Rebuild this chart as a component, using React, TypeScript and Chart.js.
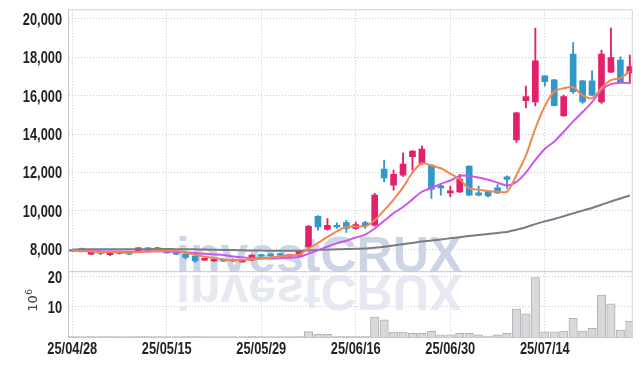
import React, { useEffect, useRef } from "react";
import { Chart, registerables } from "chart.js";
Chart.register(...registerables);

const dates = [
  "25/04/28", "25/04/29", "25/04/30", "25/05/02", "25/05/07", "25/05/08", "25/05/09", "25/05/12", "25/05/13", "25/05/14",
  "25/05/15", "25/05/16", "25/05/19", "25/05/20", "25/05/21", "25/05/22", "25/05/23", "25/05/26", "25/05/27", "25/05/28",
  "25/05/29", "25/05/30", "25/06/02", "25/06/04", "25/06/05", "25/06/09", "25/06/10", "25/06/11", "25/06/12", "25/06/13",
  "25/06/16", "25/06/17", "25/06/18", "25/06/19", "25/06/20", "25/06/23", "25/06/24", "25/06/25", "25/06/26", "25/06/27",
  "25/06/30", "25/07/01", "25/07/02", "25/07/03", "25/07/04", "25/07/07", "25/07/08", "25/07/09", "25/07/10", "25/07/11",
  "25/07/14", "25/07/15", "25/07/16", "25/07/17", "25/07/18", "25/07/21", "25/07/22", "25/07/23", "25/07/24", "25/07/25",
];

const opens = [
  7950, 8040, 7740, 7810, 7720, 7780, 7830, 7900, 8070, 7880,
  7910, 7860, 7740, 7640, 7430, 7390, 7480, 7480, 7340, 7430,
  7720, 7720, 7720, 7650, 7690, 8120, 9720, 9030, 9250, 9390,
  9080, 9390, 9250, 12170, 11340, 11860, 12820, 12470, 12380, 11300,
  10940, 10990, 12330, 10940, 11040, 11200, 11770, 13690, 15740, 15680,
  17030, 16820, 14950, 18170, 16780, 16780, 15680, 17220, 17860, 17170,
];
const highs = [
  7980, 8060, 7880, 7850, 7870, 7850, 7850, 8090, 8090, 8100,
  7930, 7880, 7760, 7660, 7550, 7500, 7500, 7500, 7480, 7710,
  7740, 7770, 7740, 7720, 7920, 9250, 9750, 9600, 9370, 9510,
  9420, 9450, 10910, 12640, 12120, 13010, 13150, 13370, 12400, 11440,
  11290, 11900, 12350, 11290, 11060, 11370, 11820, 15130, 16500, 19520,
  17050, 16850, 16030, 18760, 16800, 17300, 18380, 19520, 18030, 18120,
];
const lows = [
  7880, 7880, 7720, 7720, 7670, 7740, 7720, 7880, 7890, 7860,
  7790, 7720, 7490, 7310, 7410, 7370, 7360, 7360, 7320, 7410,
  7620, 7600, 7670, 7630, 7670, 8100, 8990, 9000, 9080, 8870,
  9030, 9080, 9200, 11510, 11080, 11800, 12120, 12400, 10650, 10820,
  10730, 10950, 10800, 10780, 10730, 10890, 11170, 13570, 15360, 15460,
  16500, 15460, 14930, 16120, 15600, 16000, 15600, 17200, 16700, 16640,
];
const closes = [
  7900, 7910, 7860, 7780, 7860, 7830, 7740, 8070, 7910, 8070,
  7810, 7740, 7570, 7390, 7530, 7480, 7380, 7380, 7460, 7690,
  7640, 7670, 7690, 7700, 7900, 9200, 9160, 9250, 9160, 9080,
  9290, 9220, 10820, 11720, 11900, 12440, 13110, 13220, 11120, 11200,
  11040, 11650, 10820, 10820, 10780, 10940, 11640, 15110, 15950, 17810,
  16730, 15480, 15950, 16210, 15680, 16030, 18170, 17980, 16730, 17510,
];
// volume, in units of 10^6 shares
const volumes = [
  0.2, 0.15, 0.2, 0.15, 0.2, 0.15, 0.1, 0.25, 0.2, 0.2,
  0.15, 0.15, 0.2, 0.25, 0.15, 0.1, 0.1, 0.1, 0.15, 0.2,
  0.15, 0.1, 0.1, 0.1, 0.3, 1.8, 0.9, 0.9, 0.3, 0.3,
  0.3, 0.3, 6.6, 5.7, 1.6, 1.6, 1.2, 1.2, 1.9, 0.7,
  0.7, 1.2, 1.2, 0.7, 0.3, 0.7, 1.2, 9.3, 7.7, 19.7,
  1.7, 1.7, 2.0, 6.2, 2.0, 2.9, 13.9, 11.0, 2.3, 5.3,
];
const ma5 = [
  7930, 7900, 7880, 7860, 7862, 7848, 7814, 7856, 7882, 7924,
  7920, 7920, 7820, 7716, 7608, 7542, 7470, 7432, 7446, 7478,
  7510, 7568, 7630, 7678, 7720, 8032, 8330, 8642, 8934, 9170,
  9188, 9200, 9514, 10026, 10590, 11220, 11998, 12478, 12358, 12218,
  11938, 11646, 11166, 11106, 11022, 11002, 11000, 11858, 12884, 14290,
  15448, 16216, 16384, 16436, 16010, 15870, 16408, 16814, 16918, 17284,
];
const ma10 = [
  7930, 7910, 7900, 7890, 7885, 7880, 7870, 7875, 7885, 7893,
  7884, 7867, 7838, 7799, 7766, 7731, 7695, 7626, 7581, 7543,
  7526, 7519, 7531, 7562, 7599, 7771, 7949, 8136, 8306, 8445,
  8610, 8765, 9078, 9480, 9880, 10204, 10599, 10996, 11192, 11404,
  11579, 11822, 11822, 11732, 11620, 11470, 11323, 11512, 11995, 12656,
  13225, 13608, 14121, 14660, 15150, 15659, 16312, 16599, 16677, 16647,
];
const ma60 = [
  7990, 7995, 8000, 8000, 8000, 8000, 8000, 8005, 8005, 8010,
  8010, 8005, 8000, 7995, 7985, 7975, 7965, 7955, 7945, 7935,
  7930, 7925, 7920, 7920, 7920, 7940, 7960, 7980, 7995, 8010,
  8025, 8040, 8080, 8130, 8200, 8260, 8330, 8400, 8450, 8510,
  8570, 8630, 8690, 8740, 8790, 8850, 8900, 9020, 9150, 9310,
  9450, 9580, 9720, 9870, 10010, 10150, 10320, 10490, 10640, 10800,
];
const priceTicks = [8000, 10000, 12000, 14000, 16000, 18000, 20000];
const volumeTicks = [10, 20];
const dateTickIndexes = [0, 10, 20, 30, 40, 50];

const UP = "#e2206b";
const DOWN = "#3198c9";
const GRID = "#c6c8da";
const AXIS = "#c8c8cc";
const LABEL_FONT = "bold 16px 'Liberation Sans', 'Arial', sans-serif";
const SQUEEZE = 0.8;

const colorAt = (i: number) => (closes[i] >= opens[i] ? UP : DOWN);

function squeezedText(ctx: any, text: string, x: number, y: number, align: string) {
  ctx.save();
  ctx.translate(x, y);
  ctx.scale(SQUEEZE, 1);
  ctx.textAlign = align;
  ctx.fillText(text, 0, 0);
  ctx.restore();
}

const decorations = {
  id: "decorations",
  beforeDatasetsDraw(chart: any) {
    const ctx = chart.ctx;
    ctx.save();
    ctx.font = "bold 50px 'Liberation Sans', sans-serif";
    ctx.textBaseline = "alphabetic";
    ctx.fillStyle = "rgba(196,204,226,0.85)";
    ctx.fillText("investCRUX", 176, 272);
    ctx.translate(0, 275);
    ctx.scale(1, -1);
    ctx.fillStyle = "rgba(222,226,238,0.75)";
    ctx.fillText("investCRUX", 176, 0);
    ctx.restore();
  },
  afterDraw(chart: any) {
    const ctx = chart.ctx;
    const a = chart.chartArea;
    const sep = chart.scales.y.bottom;
    ctx.save();
    ctx.strokeStyle = "#d2d2d6";
    ctx.lineWidth = 1;
    ctx.beginPath();
    ctx.moveTo(a.left, a.top + 0.5);
    ctx.lineTo(a.right, a.top + 0.5);
    ctx.lineTo(a.right, a.bottom);
    ctx.stroke();
    ctx.strokeStyle = AXIS;
    ctx.beginPath();
    ctx.moveTo(a.left, sep);
    ctx.lineTo(a.right, sep);
    ctx.stroke();

    // tick labels (condensed)
    ctx.fillStyle = "#222";
    ctx.font = LABEL_FONT;
    ctx.textBaseline = "middle";
    const ys = chart.scales.y;
    priceTicks.forEach((v) => {
      squeezedText(ctx, v.toLocaleString("en-US"), 62, ys.getPixelForValue(v) + 1.5, "right");
    });
    const yv = chart.scales.yv;
    volumeTicks.forEach((v) => {
      squeezedText(ctx, String(v), 62, yv.getPixelForValue(v) + 1.5, "right");
    });
    const xs = chart.scales.x;
    dateTickIndexes.forEach((i) => {
      squeezedText(ctx, dates[i], xs.getPixelForValue(i), 349.5, "center");
    });

    // 10^6 unit label
    ctx.translate(37, 311.7);
    ctx.rotate(-Math.PI / 2);
    ctx.fillStyle = "#444";
    ctx.textBaseline = "alphabetic";
    ctx.font = "13px 'DejaVu Sans', sans-serif";
    ctx.fillText("10", 0, 0);
    const w = ctx.measureText("10").width;
    ctx.font = "9px 'DejaVu Sans', sans-serif";
    ctx.fillText("6", w + 0.5, -5);
    ctx.restore();
  },
};

export default function App() {
  const ref = useRef<HTMLCanvasElement>(null);
  useEffect(() => {
    if (!ref.current) return;
    const chart = new Chart(ref.current, {
      type: "bar",
      data: {
        datasets: [
          {
            type: "line",
            label: "MA5",
            data: ma5.map((v, i) => ({ x: i, y: v })),
            borderColor: "#f0884e",
            borderWidth: 2,
            pointRadius: 0,
            tension: 0.3,
            yAxisID: "y",
            order: 0,
          } as any,
          {
            type: "line",
            label: "MA10",
            data: ma10.map((v, i) => ({ x: i, y: v })),
            borderColor: "#cc55ee",
            borderWidth: 2,
            pointRadius: 0,
            tension: 0.3,
            yAxisID: "y",
            order: 0,
          },
          {
            type: "line",
            label: "MA60",
            data: ma60.map((v, i) => ({ x: i, y: v })),
            borderColor: "#7b7b82",
            borderWidth: 2,
            pointRadius: 0,
            tension: 0.3,
            yAxisID: "y",
            order: 0,
          },
          {
            type: "bar",
            label: "body",
            data: opens.map((o, i) => ({ x: i, y: [o, closes[i]] })),
            backgroundColor: (c: any) => colorAt(c.dataIndex),
            barThickness: 6,
            minBarLength: 1.5,
            grouped: false,
            yAxisID: "y",
            order: 1,
          },
          {
            type: "bar",
            label: "wick",
            data: lows.map((l, i) => ({ x: i, y: [l, highs[i]] })),
            backgroundColor: (c: any) => colorAt(c.dataIndex),
            barThickness: 1.2,
            grouped: false,
            yAxisID: "y",
            order: 2,
          },
          {
            type: "bar",
            label: "volume",
            data: volumes.map((v, i) => ({ x: i, y: v })),
            backgroundColor: "#d9d9db",
            borderColor: "#b2b2b6",
            borderWidth: 1,
            barThickness: 8.4,
            grouped: false,
            yAxisID: "yv",
            order: 3,
          },
        ] as any,
      },
      options: {
        animation: false,
        responsive: false,
        layout: { padding: { left: 0, right: 9.7, top: 9.3, bottom: 0 } },
        plugins: { legend: { display: false }, tooltip: { enabled: false } },
        scales: {
          x: {
            type: "linear",
            min: -0.42,
            max: 59.26,
            offset: false,
            grid: { color: GRID, drawTicks: false, offset: false },
            border: { display: true, color: AXIS, dash: [1, 2] },
            ticks: { display: false },
            afterBuildTicks: (s: any) => {
              s.ticks = dateTickIndexes.map((v) => ({ value: v }));
            },
            afterFit: (s: any) => {
              s.height = 29;
            },
          },
          yv: {
            type: "linear",
            position: "left",
            stack: "panel",
            stackWeight: 65.3,
            min: 0,
            max: 21.67,
            grid: { color: GRID, drawTicks: false },
            border: { display: true, color: AXIS, dash: [1, 2] },
            ticks: { display: false },
            afterBuildTicks: (s: any) => {
              s.ticks = volumeTicks.map((v) => ({ value: v }));
            },
            afterFit: (s: any) => {
              s.width = 68.3;
            },
          },
          y: {
            type: "linear",
            position: "left",
            stack: "panel",
            stackWeight: 262.4,
            min: 6830,
            max: 20500,
            beginAtZero: false,
            grid: { color: GRID, drawTicks: false },
            border: { display: true, color: AXIS, dash: [1, 2] },
            ticks: { display: false },
            afterBuildTicks: (s: any) => {
              s.ticks = priceTicks.map((v) => ({ value: v }));
            },
            afterFit: (s: any) => {
              s.width = 68.3;
            },
          },
        } as any,
      },
      plugins: [decorations],
    });
    return () => chart.destroy();
  }, []);
  return (
    <div style={{ position: "absolute", left: 0, top: 0, width: 642, height: 366, background: "#fff" }}>
      <canvas ref={ref} width={642} height={366} style={{ display: "block" }} />
    </div>
  );
}
